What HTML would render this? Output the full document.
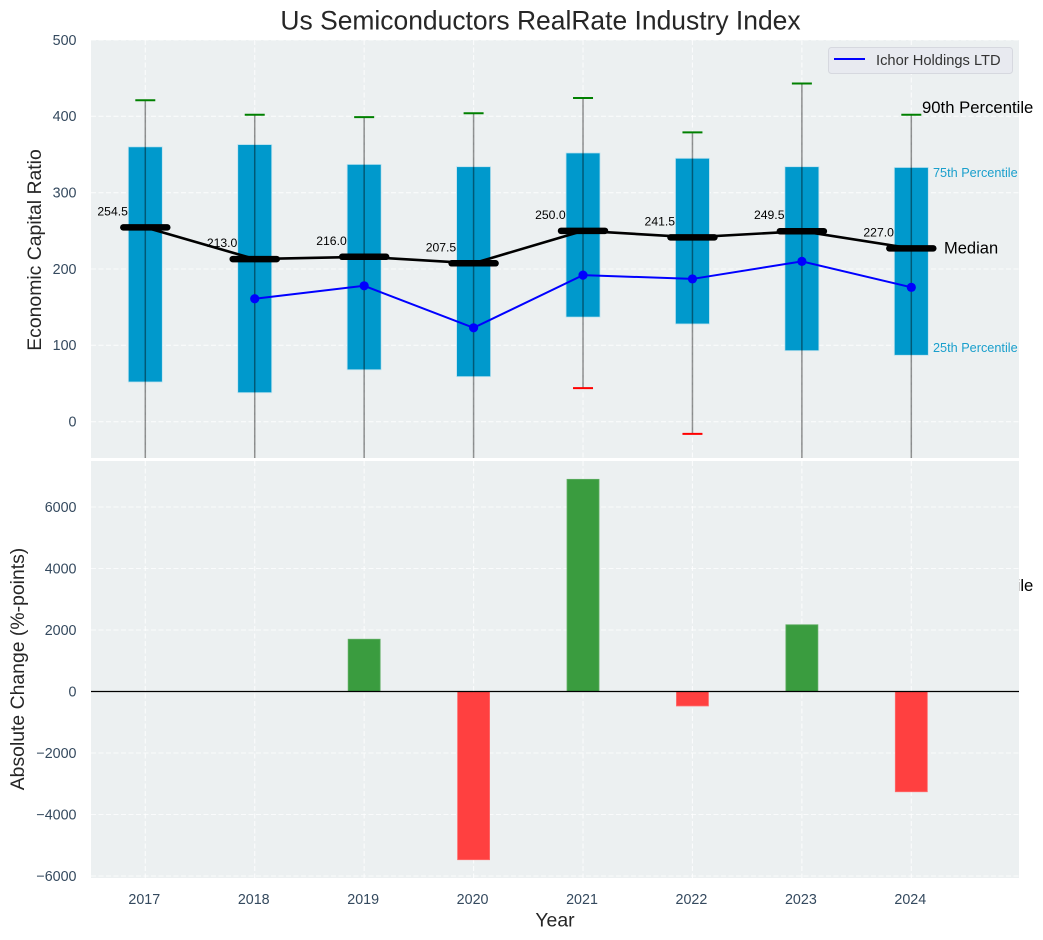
<!DOCTYPE html>
<html lang="en">
<head>
<meta charset="utf-8">
<title>Us Semiconductors RealRate Industry Index</title>
<style>
html,body{margin:0;padding:0;background:#fff;width:1043px;height:940px;overflow:hidden}
svg{display:block;font-family:"Liberation Sans",Arial,sans-serif}
</style>
</head>
<body>
<svg id="chart" width="1043" height="940" viewBox="0 0 1043 940" xmlns="http://www.w3.org/2000/svg">
  <defs>
    <clipPath id="top-clip"><rect x="91" y="40" width="928" height="418"/></clipPath>
    <clipPath id="bottom-clip"><rect x="91" y="461" width="928" height="417"/></clipPath>
  </defs>
  <text x="540.5" y="29.5" font-size="26.45" text-anchor="middle" fill="#262626">Us Semiconductors RealRate Industry Index</text>
  <rect x="91" y="40" width="928" height="418" fill="#ecf0f1"/>
  <g id="top-grid"></g>
  <g id="top-marks" clip-path="url(#top-clip)"></g>
  <g id="top-ticks"></g>
  <text x="922" y="591" font-size="16.7" fill="#000">10th Percentile</text>
  <rect x="91" y="461" width="928" height="417" fill="#ecf0f1"/>
  <g id="bottom-grid"></g>
  <g id="bottom-marks" clip-path="url(#bottom-clip)"></g>
  <g id="bottom-ticks"></g>
  <g id="x-ticks"></g>
  <line x1="91" x2="1019" y1="691.5" y2="691.5" stroke="#000" stroke-width="1.3"/>
  <text x="922" y="113" font-size="16.7" fill="#000">90th Percentile</text>
  <text x="933" y="177" font-size="12.7" fill="#1a9fcc">75th Percentile</text>
  <text x="944" y="253.5" font-size="16.5" fill="#000">Median</text>
  <text x="933" y="352" font-size="12.7" fill="#1a9fcc">25th Percentile</text>
  <text transform="translate(41,250) rotate(-90)" font-size="19.4" text-anchor="middle" fill="#262626">Economic Capital Ratio</text>
  <text transform="translate(24,669) rotate(-90)" font-size="19.4" text-anchor="middle" fill="#262626">Absolute Change (%-points)</text>
  <text x="555" y="926.7" font-size="19.4" text-anchor="middle" fill="#262626">Year</text>
  <g>
    <rect x="828.5" y="47.5" width="184" height="26" rx="3" fill="#e8eaf0" stroke="#d6d8df"/>
    <line x1="834" x2="865" y1="59" y2="59" stroke="#0000ff" stroke-width="2"/>
    <text x="876" y="65" font-size="14.7" fill="#333">Ichor Holdings LTD</text>
  </g>
</svg>
<script>
const years = [2017, 2018, 2019, 2020, 2021, 2022, 2023, 2024];
const p90 = [421, 402, 399, 404, 424, 379, 443, 402];
const p75 = [360, 363, 337, 334, 352, 345, 334, 333];
const median = [254.5, 213.0, 216.0, 207.5, 250.0, 241.5, 249.5, 227.0];
const p25 = [52, 38, 68, 59, 137, 128, 93, 87];
const p10 = [-150, -170, -120, -140, 44, -16, -130, -214];
const ichor = [null, 161, 178, 123, 192, 187, 210, 176];
const change = [null, null, 1700, -5470, 6900, -470, 2170, -3260];
const topTicks = [0, 100, 200, 300, 400, 500];
const bottomTicks = [-6000, -4000, -2000, 0, 2000, 4000, 6000];

const NS = 'http://www.w3.org/2000/svg';
const xScale = function (year) { return 145.3 + (year - 2017) * 109.43; };
const yTop = function (v) { return 421.7 - v * 0.7635; };
const yBottom = function (v) { return 691.5 - v * 0.03075; };
const minus = function (v) { return String(v).replace('-', '\u2212'); };

function make(tag, parentId, props) {
  const el = document.createElementNS(NS, tag);
  Object.keys(props).forEach(function (k) { el.setAttribute(k, props[k]); });
  document.getElementById(parentId).appendChild(el);
  return el;
}
const gridStyle = { stroke: '#ffffff', 'stroke-width': 1.1, 'stroke-dasharray': '5 2.5', 'stroke-opacity': 0.75 };
function gridLine(parentId, x1, x2, y1, y2) {
  return make('line', parentId, Object.assign({ x1: x1, x2: x2, y1: y1, y2: y2 }, gridStyle));
}

topTicks.forEach(function (t) {
  const g = gridLine('top-grid', 91, 1019, yTop(t), yTop(t));
  
  
  const label = make('text', 'top-ticks', { x: 76.5, y: yTop(t) + 4.8, 'font-size': 14.3, 'text-anchor': 'end', fill: '#34495e' });
  label.textContent = minus(t);
  
  
});
bottomTicks.forEach(function (t) {
  const g = gridLine('bottom-grid', 91, 1019, yBottom(t), yBottom(t));
  
  
  const label = make('text', 'bottom-ticks', { x: 76.5, y: yBottom(t) + 4.8, 'font-size': 14.3, 'text-anchor': 'end', fill: '#34495e' });
  label.textContent = minus(t);
  
  
});

years.forEach(function (year, i) {
  const x = xScale(year);

  const g1 = gridLine('top-grid', x, x, 40, 458);
  
  
  const g2 = gridLine('bottom-grid', x, x, 461, 878);
  
  

  const tick = make('text', 'x-ticks', { x: x - 1, y: 904, 'font-size': 14.3, 'text-anchor': 'middle', fill: '#34495e' });
  tick.textContent = year;
  
  

  const box = make('rect', 'top-marks', { x: x - 17, width: 34, y: yTop(p75[i]), height: yTop(p25[i]) - yTop(p75[i]), fill: '#0099cc', stroke: '#bfe3ef', 'stroke-width': 0.8 });
  
  

  const whisker = make('line', 'top-marks', { x1: x, x2: x, y1: yTop(p90[i]), y2: yTop(p10[i]), stroke: '#000', 'stroke-opacity': 0.42, 'stroke-width': 1.5 });
  
  

  const capHigh = make('line', 'top-marks', { x1: x - 10, x2: x + 10, y1: yTop(p90[i]), y2: yTop(p90[i]), stroke: '#008000', 'stroke-width': 2 });
  
  

  const capLow = make('line', 'top-marks', { x1: x - 10, x2: x + 10, y1: yTop(p10[i]), y2: yTop(p10[i]), stroke: '#ff0000', 'stroke-width': 2 });
  
  

  if (change[i] !== null) {
    const y0 = yBottom(0);
    const y1 = yBottom(change[i]);
    const bar = make('rect', 'bottom-marks', { x: x - 16, width: 32, y: Math.min(y0, y1), height: Math.abs(y1 - y0), fill: change[i] >= 0 ? '#3a9c3f' : '#ff4040', stroke: change[i] >= 0 ? '#5fae63' : '#ff6a6a', 'stroke-width': 0.8 });
    
    
  }
});

const medianPath = years.map(function (year, i) {
  return (i ? 'L' : 'M') + xScale(year) + ' ' + yTop(median[i]);
}).join(' ');
const medianLine = make('path', 'top-marks', { d: medianPath, fill: 'none', stroke: '#000', 'stroke-width': 2.6 });



let ichorPath = '';
years.forEach(function (year, i) {
  if (ichor[i] === null) return;
  ichorPath += (ichorPath ? 'L' : 'M') + xScale(year) + ' ' + yTop(ichor[i]) + ' ';
});
const ichorLine = make('path', 'top-marks', { d: ichorPath, fill: 'none', stroke: '#0000ff', 'stroke-width': 2 });



years.forEach(function (year, i) {
  const x = xScale(year);
  const y = yTop(median[i]);
  const bar = make('line', 'top-marks', { x1: x - 22, x2: x + 22, y1: y, y2: y, stroke: '#000', 'stroke-width': 6.5, 'stroke-linecap': 'round' });
  
  

  const label = make('text', 'top-marks', { x: x - 17.4, y: y - 12, 'font-size': 12.2, 'text-anchor': 'end', fill: '#000' });
  label.textContent = median[i].toFixed(1);
  
  

  if (ichor[i] !== null) {
    const dot = make('circle', 'top-marks', { cx: x, cy: yTop(ichor[i]), r: 4.6, fill: '#0000ff' });
    
    
  }
});
</script>
</body>
</html>
